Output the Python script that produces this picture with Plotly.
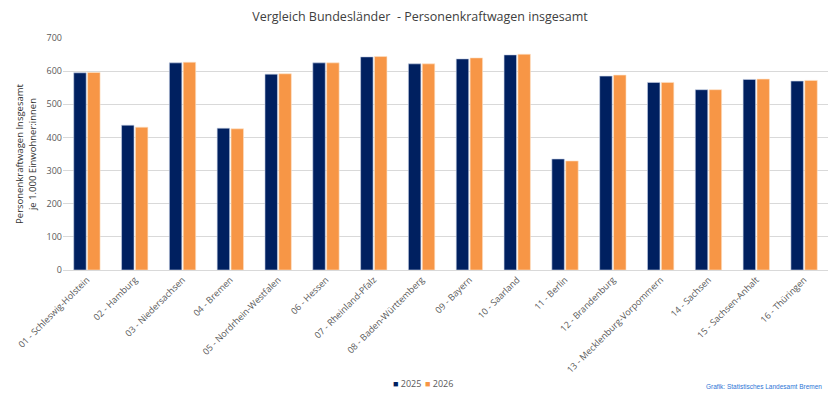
import plotly.graph_objects as go

categories = ["01 - Schleswig-Holstein", "02 - Hamburg", "03 - Niedersachsen", "04 - Bremen",
              "05 - Nordrhein-Westfalen", "06 - Hessen", "07 - Rheinland-Pfalz", "08 - Baden-Württemberg",
              "09 - Bayern", "10 - Saarland", "11 - Berlin", "12 - Brandenburg",
              "13 - Mecklenburg-Vorpommern", "14 - Sachsen", "15 - Sachsen-Anhalt", "16 - Thüringen"]
values_2025 = [595, 437, 625, 428, 591, 625, 643, 622, 637, 649, 335, 585, 566, 544, 575, 570]
values_2026 = [596, 431, 627, 426, 592, 625, 644, 622, 640, 651, 329, 588, 566, 544, 576, 572]
y_ticks = [0, 100, 200, 300, 400, 500, 600, 700]
series_names = ["2025", "2026"]
series_colors = ["#002060", "#F79646"]

FONT = "Open Sans"
fig = go.Figure()
fig.add_trace(go.Bar(name=series_names[0], x=categories, y=values_2025, showlegend=False,
                     marker=dict(color=series_colors[0], line=dict(color="#c9d3e8", width=0.6))))
fig.add_trace(go.Bar(name=series_names[1], x=categories, y=values_2026, showlegend=False,
                     marker=dict(color=series_colors[1], line=dict(color="#fde3c8", width=0.6))))

legend_anns = []
for i, (name, col) in enumerate(zip(series_names, series_colors)):
    legend_anns.append(dict(
        text=f"<span style='color:{col}'>■</span> {name}", xref="paper", yref="paper",
        x=(391 - 63 + i * 32) / 765, y=-0.488, xanchor="left", yanchor="middle", showarrow=False,
        font=dict(family=FONT, size=9, color="#595959")))

fig.update_layout(
    width=840, height=398,
    margin=dict(l=63, r=12, t=38, b=128),
    paper_bgcolor="white", plot_bgcolor="white",
    font=dict(family=FONT, color="#595959", size=9),
    title=dict(text="Vergleich Bundesländer  - Personenkraftwagen insgesamt",
               x=0.5, xanchor="center", y=0.957, yanchor="middle",
               font=dict(family=FONT, size=12.5, color="#404040")),
    barmode="group", bargap=0.42, bargroupgap=0.1,
    showlegend=False,
    xaxis=dict(tickangle=-45, tickfont=dict(family=FONT, size=9, color="#595959"),
               showline=True, linecolor="#d9d9d9", linewidth=1, ticks="", automargin=False),
    yaxis=dict(range=[0, 700], tickvals=y_ticks, showgrid=True, gridcolor="#d9d9d9",
               gridwidth=1, zeroline=False, ticks="", automargin=False,
               tickfont=dict(family=FONT, size=9, color="#595959"),
               title=dict(text="Personenkraftwagen Insgesamt<br>je 1.000 Einwohner:innen",
                          font=dict(family=FONT, size=9.5, color="#303030"), standoff=8)),
    annotations=legend_anns + [dict(text="Grafik: Statistisches Landesamt Bremen", xref="paper", yref="paper",
                      x=(824 - 63) / 765, y=-0.5, xanchor="right", yanchor="middle", showarrow=False,
                      font=dict(family="Liberation Sans", size=6.5, color="#2e75d6"))],
)
fig.write_html("out.html")
